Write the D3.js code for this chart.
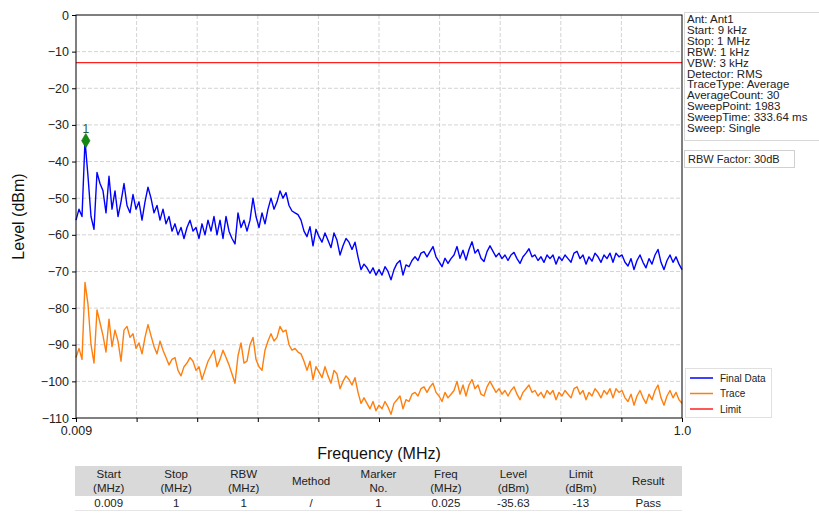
<!DOCTYPE html>
<html><head><meta charset="utf-8">
<script src="https://cdn.jsdelivr.net/npm/d3@7/dist/d3.min.js"></script>
<style>
html,body{margin:0;padding:0;background:#fff;}
svg text{font-family:"Liberation Sans",Arial,sans-serif;}
</style></head>
<body><svg id="c" width="819" height="514"></svg>
<script>
// ---- data ----
const freqStart = 0.009, freqStop = 1.0;
const finalData = [
-56,-53,-55,-34.3,-44,-55,-58.5,-43,-46,-48,-54,-44,-53,-48,-55,-51,-46,-52,-54,-49,
-53,-51,-56,-51,-47,-50,-54,-52,-56,-53,-57,-55,-59,-57,-60,-58,-61,-58,-56,-59,
-58,-61,-57,-60,-56,-59,-55,-60,-56,-61,-55,-59,-61,-62.5,-54,-58,-56,-59,-56,-50,
-55,-58,-54,-57,-53,-50,-53,-51,-48,-50,-48.5,-52,-53.5,-54,-54.5,-56,-59,
-60.5,-57.8,-63,-58.5,-60.5,-62,-59.5,-61.5,-63.5,-59.5,-61.5,-65.5,-63,-61,-62,-64,-62,-66,-69.5,-68,
-69,-70.5,-69,-71,-69.5,-71,-68.7,-70,-72.3,-69.5,-67.8,-67,-71,-68.2,-68.7,-67,-66,-67,-65,-64.6,
-66,-64.6,-63.2,-66,-67.3,-68.7,-66.4,-67.8,-66.5,-65.5,-63.2,-66.4,-64.2,-66.9,-64,-61.9,-65,-64,-66.4,-67.3,
-64.6,-63,-64.5,-66,-65,-66.5,-65.5,-67,-65.5,-64.8,-66.5,-67.8,-66,-65,-63.8,-66,-65.5,-67,-66,-67.5,
-65.5,-66.5,-65.5,-68,-66,-67,-65.5,-66.5,-67.5,-65,-64.5,-66.5,-65.5,-68,-66,-67.2,-65,-66,-67.5,-65.5,
-66.5,-65,-67.5,-65,-66,-65.5,-67.5,-68.5,-66.5,-69.5,-67,-65.5,-67.5,-69,-66.5,-68,-65.5,-64,-67.5,-69.5,
-67,-65.5,-67.5,-66,-68,-69.5
];
const traceData = [
-93.5,-91,-94,-73,-79,-90,-95,-80.5,-84,-87.5,-92,-83,-90.5,-86,-89,-94.5,-86,-85,-88,-87,
-91,-89.5,-92.5,-88,-84.5,-87.5,-90.5,-92.5,-89,-91.5,-93.5,-95.5,-94,-93.5,-97,-98.5,-96,-95,-93.5,-94.5,
-97,-96,-99.5,-97,-94.5,-93,-91.5,-96,-94,-91.5,-93.5,-95.5,-98,-100.5,-93,-89.5,-95,-94.5,-90,-88,
-94,-96,-97,-91.5,-89,-87,-89,-88,-85,-86.5,-86,-90,-91.5,-91,-92,-92.5,-94.5,
-97,-94.5,-99.5,-96,-97.5,-99,-96,-98.5,-100.5,-97,-98,-102,-100,-98.5,-99.5,-101,-99,-103,-106,-104.5,
-106,-107.5,-105.5,-108,-106.5,-107.5,-105.5,-107,-109,-106,-105,-104,-107.5,-105,-105.5,-103.5,-103,-104,-102,-101.5,
-103,-101.5,-100.5,-103,-104,-105.5,-103,-104.5,-103.5,-102.5,-100,-103.5,-101,-104,-101,-99.5,-102,-101,-103.5,-104,
-101.5,-100,-101.5,-103,-102,-103.5,-102.5,-104,-102.5,-101.5,-103.5,-105,-103,-102,-101,-103,-102.5,-104,-103,-104.5,
-102.5,-103.5,-102.5,-105,-103,-104,-102.5,-103.5,-104.5,-102,-101.5,-103.5,-102.5,-105,-103,-104,-102,-103,-104.5,-102.5,
-103.5,-102,-104.5,-102,-103,-102.5,-104.5,-105.5,-103.5,-106.5,-104,-102.5,-104.5,-106,-103.5,-105,-102.5,-101,-104.5,-106.5,
-104,-102.5,-104.5,-103,-105,-106
];
const limitLevel = -13;
const markerFreq = 0.025, markerLevel = -34.3, markerLabel = "1";
const yTicks = [0,-10,-20,-30,-40,-50,-60,-70,-80,-90,-100,-110];
const xTickLabels = {"0": "0.009", "10": "1.0"};
const infoLines = ["Ant: Ant1","Start: 9 kHz","Stop: 1 MHz","RBW: 1 kHz","VBW: 3 kHz","Detector: RMS",
  "TraceType: Average","AverageCount: 30","SweepPoint: 1983","SweepTime: 333.64 ms","Sweep: Single"];
const rbwFactor = "RBW Factor: 30dB";
const legendItems = [["Final Data","#0000ff"],["Trace","#ff7f0e"],["Limit","#ff2020"]];
const tableHeaders = [["Start","(MHz)"],["Stop","(MHz)"],["RBW","(MHz)"],["Method"],["Marker","No."],
  ["Freq","(MHz)"],["Level","(dBm)"],["Limit","(dBm)"],["Result"]];
const tableRow = ["0.009","1","1","/","1","0.025","-35.63","-13","Pass"];

// ---- layout ----
const L = 76, R = 682, T = 15, B = 418;
const svg = d3.select("#c");
const x = d3.scaleLinear().domain([freqStart, freqStop]).range([L, R]);
const y = d3.scaleLinear().domain([-110, 0]).range([B, T]);
const step = (freqStop - freqStart) / (finalData.length - 1);
const freqs = finalData.map((_, i) => freqStart + i * step);
const xGrid = d3.range(11).map(k => freqStart + k * (freqStop - freqStart) / 10);

// grid
const g = svg.append("g");
g.selectAll("line.vg").data(xGrid.slice(1, -1)).enter().append("line")
  .attr("x1", d => x(d)).attr("x2", d => x(d)).attr("y1", T).attr("y2", B)
  .attr("stroke", "#c8c8c8").attr("stroke-width", 0.8).attr("stroke-dasharray", "4,2");
g.selectAll("line.hg").data(yTicks.slice(1, -1)).enter().append("line")
  .attr("x1", L).attr("x2", R).attr("y1", d => y(d)).attr("y2", d => y(d))
  .attr("stroke", "#c8c8c8").attr("stroke-width", 0.8).attr("stroke-dasharray", "4,2");

// lines
const line = d3.line().x((d, i) => x(freqs[i])).y(d => y(d));
svg.append("path").datum(traceData).attr("d", line).attr("fill", "none")
  .attr("stroke", "#ff7f0e").attr("stroke-width", 1.4).attr("stroke-linejoin", "round");
svg.append("path").datum(finalData).attr("d", line).attr("fill", "none")
  .attr("stroke", "#0000ff").attr("stroke-width", 1.4).attr("stroke-linejoin", "round");
svg.append("line").attr("x1", x(freqStart)).attr("x2", x(freqStop))
  .attr("y1", y(limitLevel)).attr("y2", y(limitLevel))
  .attr("stroke", "#ff2020").attr("stroke-width", 1.2);

// marker
svg.append("path").attr("d", d3.symbol(d3.symbolDiamond, 60)())
  .attr("transform", `translate(${x(markerFreq)},${y(markerLevel)})`)
  .attr("fill", "#138a13").attr("stroke", "#0c6b0c").attr("stroke-width", 0.6);
svg.append("text").attr("x", x(markerFreq)).attr("y", y(markerLevel) - 8)
  .attr("text-anchor", "middle").attr("font-size", 12).attr("fill", "#2f5a2f").text(markerLabel);

// frame
svg.append("rect").attr("x", L).attr("y", T).attr("width", R - L).attr("height", B - T)
  .attr("fill", "none").attr("stroke", "#000").attr("stroke-width", 1);

// axes
const yAxis = d3.axisLeft(y).tickValues(yTicks).tickSize(4).tickPadding(3)
  .tickFormat(d => d3.format("")(d).replace("-", "\u2212"));
const ya = svg.append("g").attr("transform", `translate(${L},0)`).call(yAxis);
ya.select(".domain").remove();
ya.selectAll("text").attr("font-size", 12.5).attr("fill", "#222").attr("font-family", "Liberation Sans, Arial, sans-serif");

const xAxis = d3.axisBottom(x).tickValues(xGrid).tickSize(4).tickPadding(4)
  .tickFormat((d, i) => xTickLabels[i] || "");
const xa = svg.append("g").attr("transform", `translate(0,${B})`).call(xAxis);
xa.select(".domain").remove();
xa.selectAll("text").attr("font-size", 12.5).attr("fill", "#222").attr("font-family", "Liberation Sans, Arial, sans-serif");

svg.append("text").attr("x", (L + R) / 2).attr("y", 459).attr("text-anchor", "middle")
  .attr("font-size", 16).attr("fill", "#111").text("Frequency (MHz)");
svg.append("text").attr("transform", `translate(24,${(T + B) / 2}) rotate(-90)`).attr("text-anchor", "middle")
  .attr("font-size", 16).attr("fill", "#111").text("Level (dBm)");

// info box
svg.append("rect").attr("x", 684.5).attr("y", 12.5).attr("width", 140).attr("height", 128)
  .attr("fill", "#fff").attr("stroke", "#d8d8d8");
svg.selectAll("text.info").data(infoLines).enter().append("text")
  .attr("x", 687).attr("y", (d, i) => 23 + i * 10.9).attr("font-size", 11.5).attr("fill", "#222").text(d => d);
svg.append("rect").attr("x", 684.5).attr("y", 150.5).attr("width", 110).attr("height", 17)
  .attr("fill", "#fff").attr("stroke", "#d0d0d0");
svg.append("text").attr("x", 688).attr("y", 163).attr("font-size", 11).attr("fill", "#222").text(rbwFactor);

// legend
svg.append("rect").attr("x", 685.5).attr("y", 368.5).attr("width", 86).attr("height", 49)
  .attr("fill", "#fff").attr("stroke", "#e0e0e0");
legendItems.forEach((d, i) => {
  const yy = 378 + i * 15.5;
  svg.append("line").attr("x1", 690).attr("x2", 713).attr("y1", yy).attr("y2", yy)
    .attr("stroke", d[1]).attr("stroke-width", 1.5);
  svg.append("text").attr("x", 720).attr("y", yy + 3.5).attr("font-size", 10).attr("fill", "#222").text(d[0]);
});

// table
const tx = d3.scaleBand().domain(d3.range(tableHeaders.length)).range([75, 682]);
svg.append("rect").attr("x", 75).attr("y", 466).attr("width", 607).attr("height", 30).attr("fill", "#d9d9d9");
svg.append("line").attr("x1", 75).attr("x2", 682).attr("y1", 510.5).attr("y2", 510.5).attr("stroke", "#e6e6e6");
tableHeaders.forEach((h, i) => {
  const cx = tx(i) + tx.bandwidth() / 2;
  if (h.length === 1) {
    svg.append("text").attr("x", cx).attr("y", 485).attr("text-anchor", "middle").attr("font-size", 11.5).attr("fill", "#222").text(h[0]);
  } else {
    svg.append("text").attr("x", cx).attr("y", 478).attr("text-anchor", "middle").attr("font-size", 11.5).attr("fill", "#222").text(h[0]);
    svg.append("text").attr("x", cx).attr("y", 492).attr("text-anchor", "middle").attr("font-size", 11.5).attr("fill", "#222").text(h[1]);
  }
  svg.append("text").attr("x", cx).attr("y", 507).attr("text-anchor", "middle").attr("font-size", 11.5).attr("fill", "#222").text(tableRow[i]);
});
</script></body></html>
